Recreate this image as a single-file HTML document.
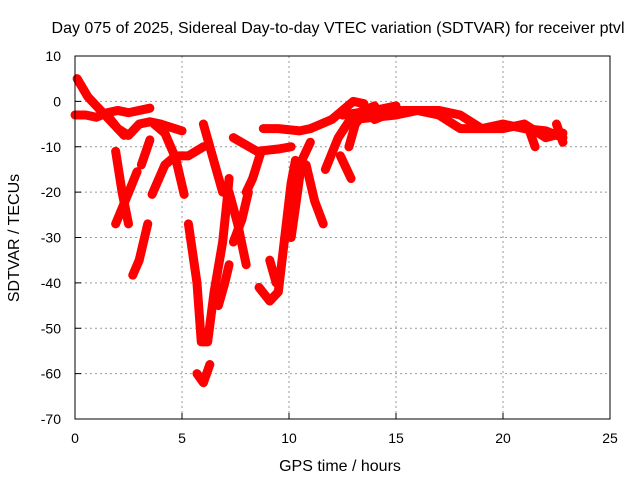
<!DOCTYPE html>
<html><head><meta charset="utf-8"><style>
body{margin:0;background:#fff;}
svg text{font-family:"Liberation Sans",sans-serif;font-size:14px;fill:#000;}
</style></head><body>
<svg id="chart" width="640" height="480" xmlns="http://www.w3.org/2000/svg">
<rect width="640" height="480" fill="#fff"/>
<text x="338" y="33" text-anchor="middle" style="font-size:16px" textLength="573">Day 075 of 2025, Sidereal Day-to-day VTEC variation (SDTVAR) for receiver ptvl</text>
<g id="grid"></g>
<g id="ticks"></g>
<g id="series"></g>
<rect x="75" y="56" width="535" height="363" fill="none" stroke="#000" stroke-width="1"/>
<text x="340" y="471" text-anchor="middle" style="font-size:16px">GPS time / hours</text>
<text transform="translate(19,238) rotate(-90)" text-anchor="middle" style="font-size:16px">SDTVAR / TECUs</text>
</svg>
<script>
const xTicks=[0,5,10,15,20,25];
const yTicks=[10,0,-10,-20,-30,-40,-50,-60,-70];
const tracks=[
[[0.1,5],[0.6,1],[1.2,-2],[1.9,-5.5],[2.3,-7.5]],
[[0,-3],[0.5,-3],[1,-3.5],[1.5,-2.5],[2,-2],[2.5,-2.5],[3,-2],[3.5,-1.5]],
[[1.5,-3],[2,-6],[2.5,-7.5],[3,-5],[3.5,-4.5],[4,-5],[5,-6.5]],
[[1.9,-11],[2.2,-20],[2.5,-27]],
[[1.9,-27],[2.6,-19],[2.9,-15.5]],
[[3.1,-14],[3.5,-8.5]],
[[2.7,-38.3],[3.0,-35],[3.4,-27]],
[[3.6,-20.5],[4.2,-14],[4.7,-12],[5.3,-12],[6,-10]],
[[3.7,-5],[4.2,-7],[4.7,-12.5],[5.1,-20.5]],
[[5.3,-27],[5.7,-40],[5.9,-53],[6.2,-53],[6.5,-42],[6.9,-31],[7.1,-22],[7.2,-17]],
[[5.7,-60],[6.0,-62],[6.3,-58]],
[[6,-5],[6.3,-10],[6.9,-20]],
[[6.7,-45],[7.0,-40],[7.2,-36]],
[[7.2,-20],[7.6,-27],[8.0,-36]],
[[7.4,-31],[7.8,-26],[8.1,-20]],
[[7.4,-8],[8.5,-11],[9.5,-10.5],[10.1,-10]],
[[8.7,-11],[8.3,-17],[8.0,-20]],
[[8.6,-41],[9.1,-44],[9.5,-42],[9.8,-30],[10.1,-18],[10.3,-13]],
[[9.1,-35],[9.4,-40]],
[[10.1,-30],[10.4,-20],[10.6,-13],[11,-9]],
[[10.8,-14],[11.2,-22],[11.6,-27]],
[[8.8,-6],[9.5,-6],[10.5,-6.5],[11,-6]],
[[11,-6],[12,-4],[13,0],[13.5,-0.5]],
[[11.7,-15],[12.3,-8],[13,-3],[14,-1]],
[[12.4,-12],[12.9,-17]],
[[12.8,-10],[13.1,-5],[13.6,-2]],
[[13,-4],[15,-3],[16,-2],[17,-2],[18,-3],[19,-6],[20,-6],[21,-5],[22,-8],[22.8,-7]],
[[14,-4],[15,-2],[16,-2],[17,-3],[18,-6],[19,-6],[20,-5],[21,-6],[22,-6.5],[22.8,-8]],
[[12.5,-3],[14,-2],[15,-1]],
[[21.2,-6],[21.5,-10]],
[[22.5,-5],[22.8,-9]]
];
const X=v=>75+v*(535/25);
const Y=v=>56+(10-v)*(363/80);
const NS="http://www.w3.org/2000/svg";
const grid=document.getElementById('grid'),ticks=document.getElementById('ticks'),ser=document.getElementById('series');
function mk(t,a,p){const e=document.createElementNS(NS,t);for(const k in a)e.setAttribute(k,a[k]);p.appendChild(e);return e;}
xTicks.forEach(v=>{
 if(v>0&&v<25){const g=mk('line',{x1:X(v),x2:X(v),y1:56,y2:419,stroke:'#999','stroke-dasharray':'2,3'},grid);
 
 }
 const t=mk('line',{x1:X(v),x2:X(v),y1:419,y2:413,stroke:'#000'},ticks);
 
 
 const l=mk('text',{x:X(v),y:443,'text-anchor':'middle'},ticks);l.textContent=v;
 
 
});
yTicks.forEach(v=>{
 if(v<10&&v>-70){const g=mk('line',{x1:75,x2:610,y1:Y(v),y2:Y(v),stroke:'#999','stroke-dasharray':'2,3'},grid);
 
 }
 const t=mk('line',{x1:75,x2:81,y1:Y(v),y2:Y(v),stroke:'#000'},ticks);
 
 
 const l=mk('text',{x:61,y:Y(v)+5,'text-anchor':'end'},ticks);l.textContent=v;
 
 
});
tracks.forEach(tr=>{
 const p=mk('polyline',{points:tr.map(d=>X(d[0])+','+Y(d[1])).join(' '),fill:'none',stroke:'#f00','stroke-width':9,'stroke-linecap':'round','stroke-linejoin':'round'},ser);
 
 
});
</script>
</body></html>
